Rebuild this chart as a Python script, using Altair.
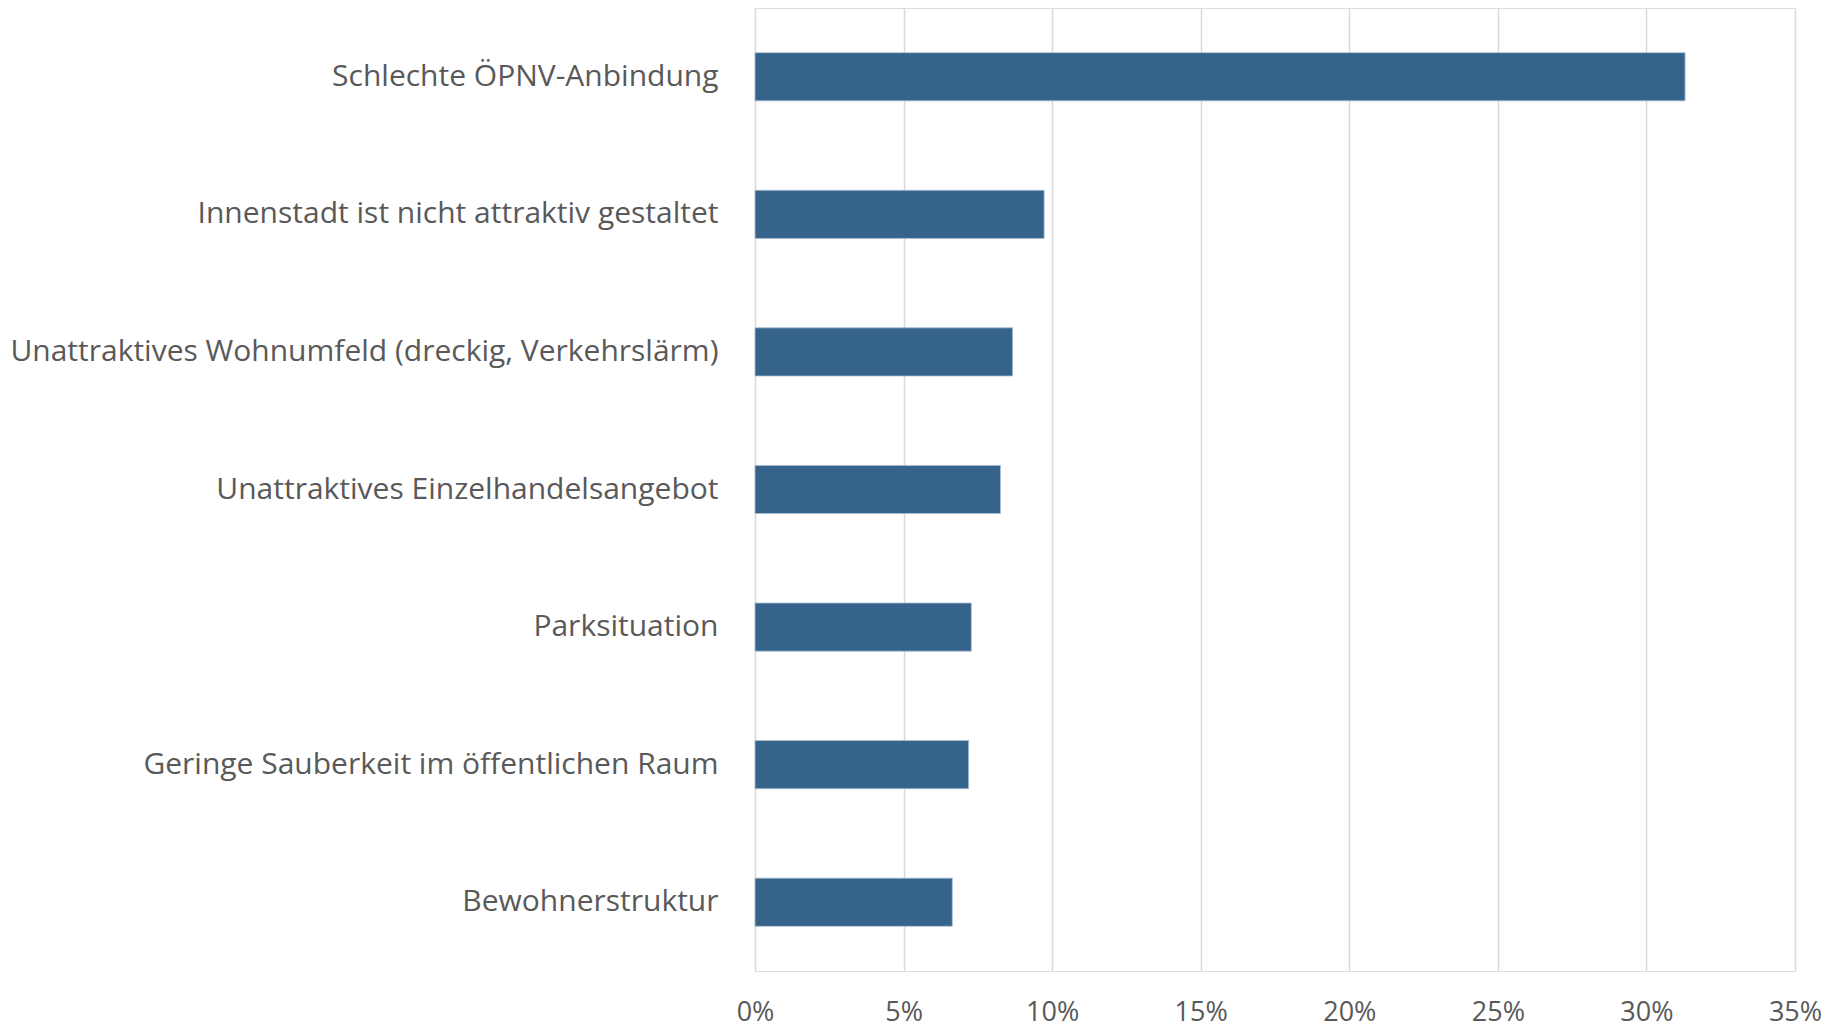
import altair as alt
import pandas as pd

categories = [
    "Schlechte ÖPNV-Anbindung",
    "Innenstadt ist nicht attraktiv gestaltet",
    "Unattraktives Wohnumfeld (dreckig, Verkehrslärm)",
    "Unattraktives Einzelhandelsangebot",
    "Parksituation",
    "Geringe Sauberkeit im öffentlichen Raum",
    "Bewohnerstruktur",
]
values = [31.3, 9.73, 8.67, 8.26, 7.28, 7.19, 6.64]
x_ticks = [0, 5, 10, 15, 20, 25, 30, 35]

df = pd.DataFrame({"cat": categories, "val": [v / 100 for v in values]})

FONT = "Open Sans"
GREY = "#595959"

chart = (
    alt.Chart(df)
    .mark_bar(color="#36638a", stroke="#a9bfd3", strokeWidth=0.8)
    .encode(
        y=alt.Y(
            "cat:N",
            sort=categories,
            title=None,
            scale=alt.Scale(paddingInner=0.65, paddingOuter=0.325),
            axis=alt.Axis(
                domain=False,
                ticks=False,
                labelFont=FONT,
                labelFontSize=30,
                labelColor=GREY,
                labelPadding=37,
                labelLimit=900,
            ),
        ),
        x=alt.X(
            "val:Q",
            title=None,
            scale=alt.Scale(domain=[0, 0.35], nice=False),
            axis=alt.Axis(
                values=[t / 100 for t in x_ticks],
                format=".0%",
                domain=False,
                ticks=False,
                grid=True,
                gridColor="#d9d9d9",
                gridWidth=1.5,
                labelFont=FONT,
                labelFontSize=27,
                labelColor=GREY,
                labelPadding=28,
                labelFlush=False,
            ),
        ),
    )
    .properties(
        width=1040,
        height=963,
        autosize=alt.AutoSizeParams(type="none"),
        padding={"left": 747, "top": 0, "right": 30, "bottom": 52},
    )
    .configure_view(stroke=None)
    .configure(background="white")
)

chart.save("out.html", embed_options={"renderer": "svg", "actions": False})
